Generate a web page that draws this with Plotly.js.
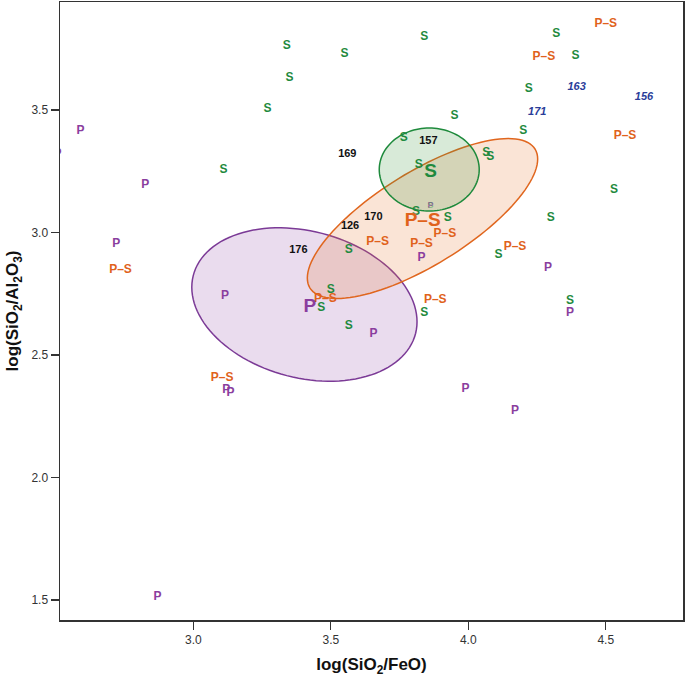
<!DOCTYPE html>
<html>
<head>
<meta charset="utf-8">
<script src="https://cdn.plot.ly/plotly-3.0.1.min.js"></script>
<style>html,body{margin:0;padding:0;background:#fff}#chart{width:685px;height:681px}</style>
</head>
<body>
<div id="chart"></div>
<script>
// ---- Data ----
// Group S samples
const sX = [3.34, 3.55, 3.35, 3.27, 3.11, 3.84, 4.32, 4.39, 4.22, 3.95, 4.20, 3.765, 4.065, 4.08, 3.82, 4.53, 3.81, 3.925, 4.30, 3.565, 4.11, 3.50, 3.465, 3.565, 3.84, 4.37];
const sY = [3.76, 3.73, 3.63, 3.505, 3.255, 3.80, 3.81, 3.72, 3.585, 3.475, 3.415, 3.385, 3.325, 3.31, 3.275, 3.175, 3.085, 3.06, 3.06, 2.93, 2.91, 2.765, 2.69, 2.62, 2.67, 2.72];
// Group P samples
const pX = [2.59, 2.825, 2.72, 3.115, 3.655, 3.83, 4.29, 4.37, 3.99, 4.17, 3.12, 3.135, 2.87, 2.506];
const pY = [3.415, 3.195, 2.955, 2.74, 2.585, 2.895, 2.855, 2.67, 2.36, 2.27, 2.355, 2.345, 1.51, 3.32];
// Group P–S samples
const psX = [4.50, 4.275, 4.57, 3.915, 3.67, 3.83, 4.17, 3.88, 3.48, 2.735, 3.105];
const psY = [3.85, 3.715, 3.395, 2.995, 2.96, 2.955, 2.94, 2.725, 2.73, 2.845, 2.405];
// Group centroids
const centLabels = ["S", "P–S", "P"];
const centX = [3.863, 3.834, 3.424];
const centY = [3.248, 3.044, 2.695];
// Numbered samples (black)
const numLabels = ["169", "157", "170", "126", "176"];
const numX = [3.56, 3.855, 3.655, 3.57, 3.382];
const numY = [3.32, 3.371, 3.061, 3.027, 2.926];
// Numbered samples (blue italic)
const blueLabels = ["163", "156", "171"];
const blueX = [4.394, 4.639, 4.251];
const blueY = [3.595, 3.554, 3.492];
// Small overlapped point
const smallX = [3.863];
const smallY = [3.108];
// Confidence ellipses: centre, sd x, sd y, covariance (data units)
const ellNames = ["P", "P–S", "S"];
const ellCX = [3.404, 3.8335, 3.858];
const ellCY = [2.706, 3.057, 3.257];
const ellSX = [0.4096, 0.4189, 0.1818];
const ellSY = [0.3131, 0.3265, 0.1694];
const ellCov = [-0.0288, 0.1017, 0.0];
// Axis ticks
const xTicks = [3.0, 3.5, 4.0, 4.5];
const yTicks = [1.5, 2.0, 2.5, 3.0, 3.5];

const colS = '#1f8a3e', colP = '#8a3e9e', colPS = '#e0621b', colBlue = '#2a3d99';
const ellLine = ['#7b3a96', '#e0661e', '#1e8a3c'];
const ellFill = ['rgba(140,60,160,0.18)', 'rgba(230,120,50,0.2)', 'rgba(60,150,60,0.2)'];

function ellipsePath(cx, cy, sx, sy, cov) {
  const k = cov / sx;
  const m = Math.sqrt(sy * sy - k * k);
  let d = '';
  for (let i = 0; i <= 120; i++) {
    const t = 2 * Math.PI * i / 120;
    const x = cx + sx * Math.cos(t);
    const y = cy + k * Math.cos(t) + m * Math.sin(t);
    d += (i ? 'L' : 'M') + x.toFixed(5) + ',' + y.toFixed(5);
  }
  return d + 'Z';
}

const shapes = ellNames.map((n, i) => ({
  type: 'path', xref: 'x', yref: 'y', layer: 'below',
  path: ellipsePath(ellCX[i], ellCY[i], ellSX[i], ellSY[i], ellCov[i]),
  fillcolor: ellFill[i], line: {color: ellLine[i], width: 1.5}
}));

const bold = 'Liberation Sans, Arial, sans-serif';
function txt(x, y, text, color, size, extra) {
  return Object.assign({
    type: 'scatter', mode: 'text', x: x, y: y, text: text,
    textposition: 'middle center', hoverinfo: 'skip', showlegend: false,
    textfont: {family: bold, size: size, color: color, weight: 'bold'}
  }, extra || {});
}

const traces = [
  txt(sX, sY, sX.map(() => 'S'), colS, 12),
  txt(pX, pY, pX.map(() => 'P'), colP, 12),
  txt(psX, psY, psX.map(() => 'P–S'), colPS, 12),
  txt(smallX, smallY, ['P'], 'rgba(138,62,158,0.7)', 9),
  txt(smallX, smallY, ['S'], 'rgba(31,138,62,0.4)', 9),
  txt(centX, centY, centLabels, [colS, colPS, colP], 19),
  txt(numX, numY, numLabels, '#111', 11),
  txt(blueX, blueY, blueLabels, colBlue, 11, {}),
];
traces[traces.length - 1].textfont.style = 'italic';

const layout = {
  width: 685, height: 681,
  margin: {l: 60, r: 2, t: 2, b: 61},
  paper_bgcolor: '#fff', plot_bgcolor: '#fff',
  showlegend: false,
  shapes: shapes,
  xaxis: {
    range: [2.515, 4.781], tickvals: xTicks, ticktext: xTicks.map(v => v.toFixed(1)),
    ticks: 'outside', ticklen: 8, tickwidth: 1.2, tickcolor: '#333',
    showline: true, linecolor: '#333', linewidth: 1.5, mirror: true,
    showgrid: false, zeroline: false,
    tickfont: {family: 'Liberation Sans, Arial, sans-serif', size: 12, color: '#333'},
    title: {text: '<b>log(SiO<sub>2</sub>/FeO)</b>', standoff: 12,
      font: {family: 'Liberation Sans, Arial, sans-serif', size: 17, color: '#111'}}
  },
  yaxis: {
    range: [1.418, 3.941], tickvals: yTicks, ticktext: yTicks.map(v => v.toFixed(1)),
    ticks: 'outside', ticklen: 8, tickwidth: 1.2, tickcolor: '#333',
    showline: true, linecolor: '#333', linewidth: 1.5, mirror: true,
    showgrid: false, zeroline: false,
    tickfont: {family: 'Liberation Sans, Arial, sans-serif', size: 12, color: '#333'},
    title: {text: '<b>log(SiO<sub>2</sub>/Al<sub>2</sub>O<sub>3</sub>)</b>', standoff: 8,
      font: {family: 'Liberation Sans, Arial, sans-serif', size: 17, color: '#111'}}
  }
};

Plotly.newPlot('chart', traces, layout, {displayModeBar: false, staticPlot: true});
</script>
</body>
</html>
